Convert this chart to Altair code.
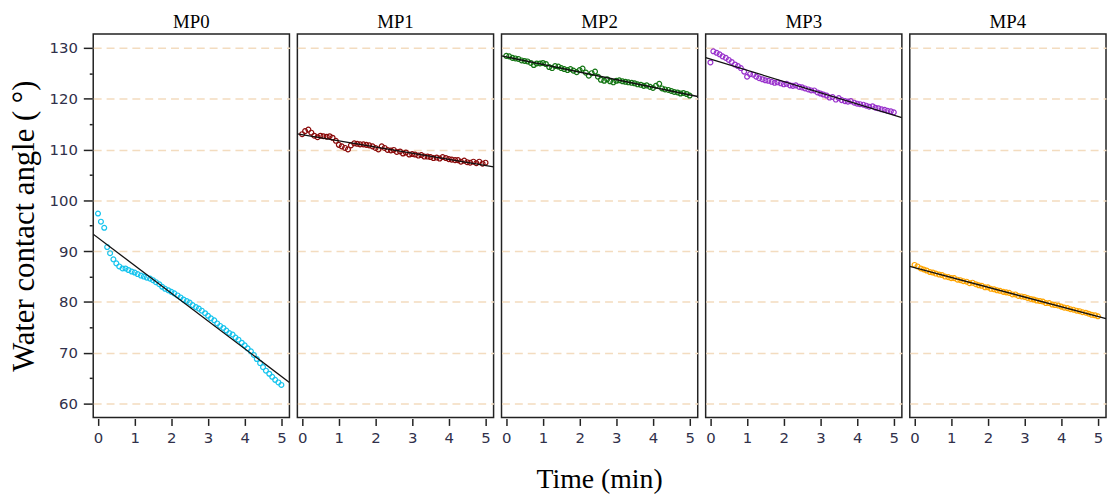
import altair as alt
import pandas as pd

series_names = ["MP0", "MP1", "MP2", "MP3", "MP4"]
series_colors = ["#16c4ee", "#8b0a0a", "#137513", "#9932cc", "#ffa500"]

time_min = [0.00, 0.08, 0.17, 0.25, 0.33, 0.42, 0.50, 0.58, 0.67, 0.75, 0.83, 0.92,
            1.00, 1.08, 1.17, 1.25, 1.33, 1.42, 1.50, 1.58, 1.67, 1.75, 1.83, 1.92,
            2.00, 2.08, 2.17, 2.25, 2.33, 2.42, 2.50, 2.58, 2.67, 2.75, 2.83, 2.92,
            3.00, 3.08, 3.17, 3.25, 3.33, 3.42, 3.50, 3.58, 3.67, 3.75, 3.83, 3.92,
            4.00, 4.08, 4.17, 4.25, 4.33, 4.42, 4.50, 4.58, 4.67, 4.75, 4.83, 4.92,
            5.00]

mp0 = [97.4, 95.8, 94.6, 90.8, 89.6, 88.4, 87.6, 87.0, 86.6, 86.6, 86.3, 86.0,
       85.8, 85.5, 85.2, 85.0, 84.8, 84.6, 84.3, 83.9, 83.5, 83.0, 82.6, 82.3,
       82.0, 81.7, 81.3, 80.9, 80.5, 80.2, 79.9, 79.4, 79.0, 78.7, 78.3, 77.8,
       77.3, 76.8, 76.4, 75.8, 75.3, 74.9, 74.4, 73.9, 73.6, 73.0, 72.6, 72.0,
       71.5, 70.9, 70.3, 69.6, 68.8, 68.0, 67.2, 66.5, 65.9, 65.3, 64.7, 64.2,
       63.7]
mp1 = [113.0, 113.6, 113.9, 113.3, 112.7, 112.4, 112.7, 112.6, 112.5, 112.6, 112.3, 111.7,
       110.9, 110.6, 110.3, 110.0, 110.8, 111.2, 111.1, 111.0, 111.0, 110.9, 110.8, 110.6,
       110.3, 110.0, 110.6, 110.3, 109.9, 109.8, 109.9, 109.5, 109.6, 109.2, 109.4, 109.0,
       109.1, 109.0, 108.8, 108.9, 108.6, 108.6, 108.5, 108.3, 108.4, 108.2, 108.5, 108.3,
       108.1, 108.0, 107.9, 107.9, 107.6, 107.8, 107.5, 107.4, 107.6, 107.3, 107.6, 107.2,
       107.4]
mp2 = [128.4, 128.3, 128.0, 127.9, 127.8, 127.5, 127.4, 127.3, 127.0, 126.6, 126.9, 126.9,
       127.0, 126.8, 126.2, 126.0, 126.4, 126.3, 126.0, 125.8, 125.6, 125.8, 125.5, 125.2,
       125.6, 125.9, 125.1, 124.5, 125.0, 125.3, 124.3, 123.7, 123.5, 123.8, 123.4, 123.2,
       123.5, 123.6, 123.4, 123.3, 123.2, 123.1, 123.0, 122.8, 122.7, 122.5, 122.6, 122.3,
       122.1, 122.5, 122.9, 122.0, 121.8, 121.7, 121.5, 121.3, 121.2, 121.0, 121.1, 120.9,
       120.6]
mp3 = [127.1, 129.3, 129.0, 128.7, 128.3, 128.0, 127.6, 127.2, 126.7, 126.4, 126.0, 125.3,
       124.3, 124.8, 124.7, 124.3, 124.0, 123.8, 123.6, 123.5, 123.3, 123.1, 123.2, 123.0,
       122.8, 122.9, 122.6, 122.5, 122.6, 122.3, 122.2, 122.0, 121.8, 121.6, 121.6, 121.2,
       121.0, 120.8, 120.6, 120.2, 120.3, 119.8, 120.1, 119.7, 119.5, 119.4, 119.5, 119.2,
       119.0, 118.9, 118.8, 118.6, 118.4, 118.5, 118.2, 118.1, 117.9, 117.8, 117.6, 117.5,
       117.3]
mp4 = [87.3, 87.0, 86.6, 86.4, 86.2, 85.9, 85.8, 85.6, 85.4, 85.3, 85.0, 84.9,
       84.7, 84.7, 84.4, 84.3, 84.1, 84.0, 83.7, 83.8, 83.5, 83.3, 83.2, 82.9,
       82.9, 82.6, 82.5, 82.3, 82.2, 82.0, 81.9, 81.8, 81.5, 81.5, 81.2, 81.1,
       81.0, 80.8, 80.6, 80.5, 80.3, 80.2, 80.1, 79.8, 79.8, 79.5, 79.4, 79.3,
       79.1, 78.9, 78.8, 78.6, 78.5, 78.3, 78.2, 78.0, 77.9, 77.7, 77.5, 77.4,
       77.2]

y_ticks = [60, 65, 70, 75, 80, 85, 90, 95, 100, 105, 110, 115, 120, 125, 130]
x_ticks = [0, 1, 2, 3, 4, 5]

rows = []
for name, vals in zip(series_names, [mp0, mp1, mp2, mp3, mp4]):
    for t, v in zip(time_min, vals):
        rows.append({"series": name, "time": t, "angle": v})
df = pd.DataFrame(rows)

x_dom = [-0.13, 5.22]
y_dom = [57.3, 132.7]

x_axis = alt.Axis(
    values=x_ticks, tickCount=6, title=None, grid=False, domain=False,
    tickSize=7, tickColor="#222", tickWidth=1.5,
    labelFont="DejaVu Sans", labelFontSize=15, labelColor="#30304a",
    labelPadding=5, labelFlush=False, labelOverlap=False, labelBound=False,
)
y_axis = alt.Axis(
    values=y_ticks, title="Water contact  angle ( °)", domain=False,
    labelExpr="datum.value % 10 === 0 ? datum.label : ''",
    labelOverlap=False,
    tickSize={"condition": {"test": "datum.value % 10 === 0", "value": 9}, "value": 3},
    tickColor="#222", tickWidth=1.5,
    grid=True, gridColor="#f3dcbf", gridDash=[8, 5], gridWidth=1.5,
    gridOpacity={"condition": {"test": "datum.value % 10 === 0", "value": 1}, "value": 0},
    labelFont="DejaVu Sans", labelFontSize=15, labelColor="#30304a", labelPadding=6,
    titleFont="Liberation Serif", titleFontSize=31, titleFontWeight="normal",
    titleColor="black", titlePadding=9,
)

x_enc = alt.X("time:Q", scale=alt.Scale(domain=x_dom, nice=False, zero=False), axis=x_axis)
y_enc = alt.Y("angle:Q", scale=alt.Scale(domain=y_dom, nice=False, zero=False), axis=y_axis)

points = alt.Chart().mark_point(shape="circle", filled=False, size=24, strokeWidth=1.2, opacity=1).encode(
    x=x_enc,
    y=y_enc,
    color=alt.Color("series:N", scale=alt.Scale(domain=series_names, range=series_colors), legend=None),
)
fit = alt.Chart().transform_regression(
    "time", "angle", groupby=["series"], extent=x_dom
).mark_line(color="#111", strokeWidth=1.3, clip=True).encode(
    x=x_enc,
    y=y_enc,
)

chart = alt.layer(points, fit, data=df).properties(width=198, height=387).facet(
    column=alt.Column(
        "series:N",
        sort=series_names,
        title="Time (min)",
        header=alt.Header(
            labelOrient="top", titleOrient="bottom",
            labelFont="Liberation Serif", labelFontSize=19, labelColor="black", labelPadding=1,
            titleFont="Liberation Serif", titleFontSize=28, titleFontWeight="normal",
            titleColor="black", titlePadding=11,
        ),
    ),
    spacing=6,
).configure_view(stroke="#222", strokeWidth=1.5).properties(
    padding={"left": 0, "top": 3, "right": 0, "bottom": 0}
)

chart.save("out.html", embed_options={"renderer": "svg", "actions": False})
